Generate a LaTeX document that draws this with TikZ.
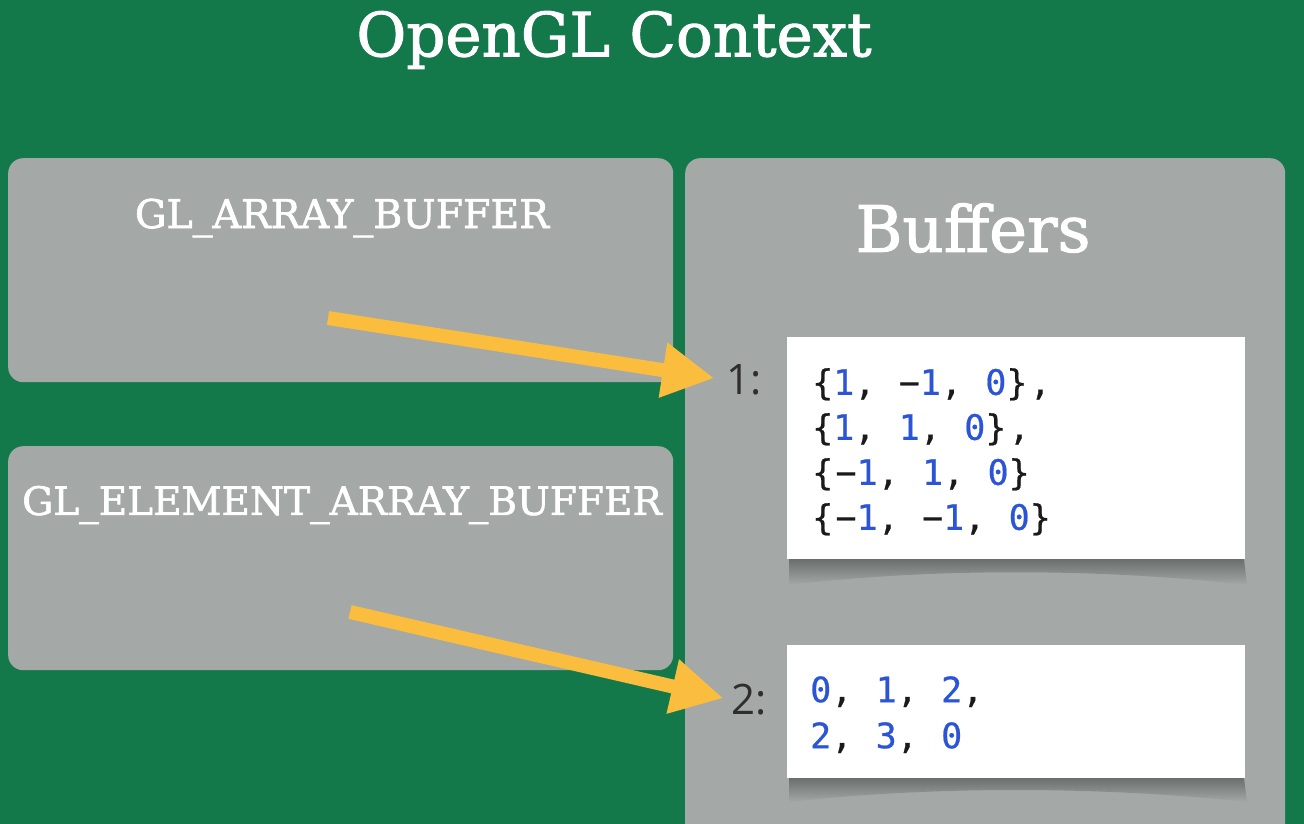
\documentclass[tikz,border=0pt]{standalone}
\usepackage{fontspec}
\usetikzlibrary{arrows.meta}
\newfontfamily\slab[FakeBold=1.6]{DejaVu Serif}
\newfontfamily\codef[LetterSpace=6.5,FakeBold=0.6]{DejaVu Sans Mono}
\newfontfamily\lblf{Open Sans}
\definecolor{bggreen}{HTML}{13784A}
\definecolor{panel}{HTML}{A4A8A6}
\definecolor{arrowy}{HTML}{FBBD3D}
\definecolor{codeblue}{HTML}{2B55D6}
\definecolor{codeblk}{HTML}{1A1A1A}
\definecolor{lbl}{HTML}{2E2E2E}
\definecolor{shadowc}{HTML}{6A6E6C}
\newcommand{\bl}[1]{\textcolor{codeblue}{#1}}
\tikzset{
  panelbox/.style={fill=panel, rounded corners=15pt, inner sep=0pt, anchor=north west},
  codebox/.style={fill=white, inner sep=0pt, anchor=north west},
  slabtext/.style={text=white, font=\slab\fontsize{39.5}{44}\selectfont, inner sep=0pt},
  codetext/.style={text=codeblk, font=\codef\fontsize{35}{45}\selectfont, align=left, inner sep=0pt, anchor=north west},
  idxlabel/.style={text=lbl, font=\lblf\fontsize{42}{48}\selectfont, inner sep=0pt},
  bigarrow/.style={draw=arrowy, line width=14pt, -{Triangle[width=52pt,length=52pt]}, fill=arrowy}
}
\begin{document}
\begin{tikzpicture}[x=1pt,y=-1pt]
\useasboundingbox (0,0) rectangle (1304,824);
\fill[bggreen] (0,0) rectangle (1304,824);
% title
\node[text=white, font=\slab\fontsize{61}{70}\selectfont, inner sep=0pt] (title) at (614,40) {OpenGL Context};
% left panels
\node[panelbox, minimum width=665pt, minimum height=224pt] (arr) at (8,158) {};
\node[slabtext] (arrt) at (342,218) {GL\_ARRAY\_BUFFER};
\node[panelbox, minimum width=665pt, minimum height=224pt] (elem) at (8,446) {};
\node[slabtext, font=\slab\fontsize{39}{44}\selectfont] (elemt) at (342,505) {GL\_ELEMENT\_ARRAY\_BUFFER};
% right panel
\node[panelbox, minimum width=600pt, minimum height=720pt] (buf) at (685,158) {};
\node[text=white, font=\slab\fontsize{64}{70}\selectfont, inner sep=0pt] (buft) at (973,228) {Buffers};
% shadows
\shade[top color=shadowc, bottom color=panel] (789,559) -- (1244,559) -- (1247,585) .. controls (1100,568) and (930,568) .. (789,585) -- cycle;
\shade[top color=shadowc, bottom color=panel] (789,778) -- (1244,778) -- (1247,802) .. controls (1100,786) and (930,786) .. (789,802) -- cycle;
% code boxes
\node[codebox, minimum width=458pt, minimum height=222pt] (b1) at (787,337) {};
\node[codebox, minimum width=458pt, minimum height=133pt] (b2) at (787,645) {};
\node[codetext] (c1) at (812,368) {\{\bl{1}, −\bl{1}, \bl{0}\},\\\{\bl{1}, \bl{1}, \bl{0}\},\\\{−\bl{1}, \bl{1}, \bl{0}\}\\\{−\bl{1}, −\bl{1}, \bl{0}\}};
\node[codetext, font=\codef\fontsize{35}{46}\selectfont] (c2) at (810,676) {\bl{0}, \bl{1}, \bl{2},\\\bl{2}, \bl{3}, \bl{0}};
% index labels
\node[idxlabel] (l1) at (744,380) {1:};
\node[idxlabel] (l2) at (749,700) {2:};
% arrows
\coordinate (a1s) at (328,318);
\coordinate (a2s) at (350,612);
\draw[bigarrow, shorten >=12pt] (a1s) -- (l1.west);
\draw[bigarrow, shorten >=8pt] (a2s) -- (l2.west);
\end{tikzpicture}
\end{document}
